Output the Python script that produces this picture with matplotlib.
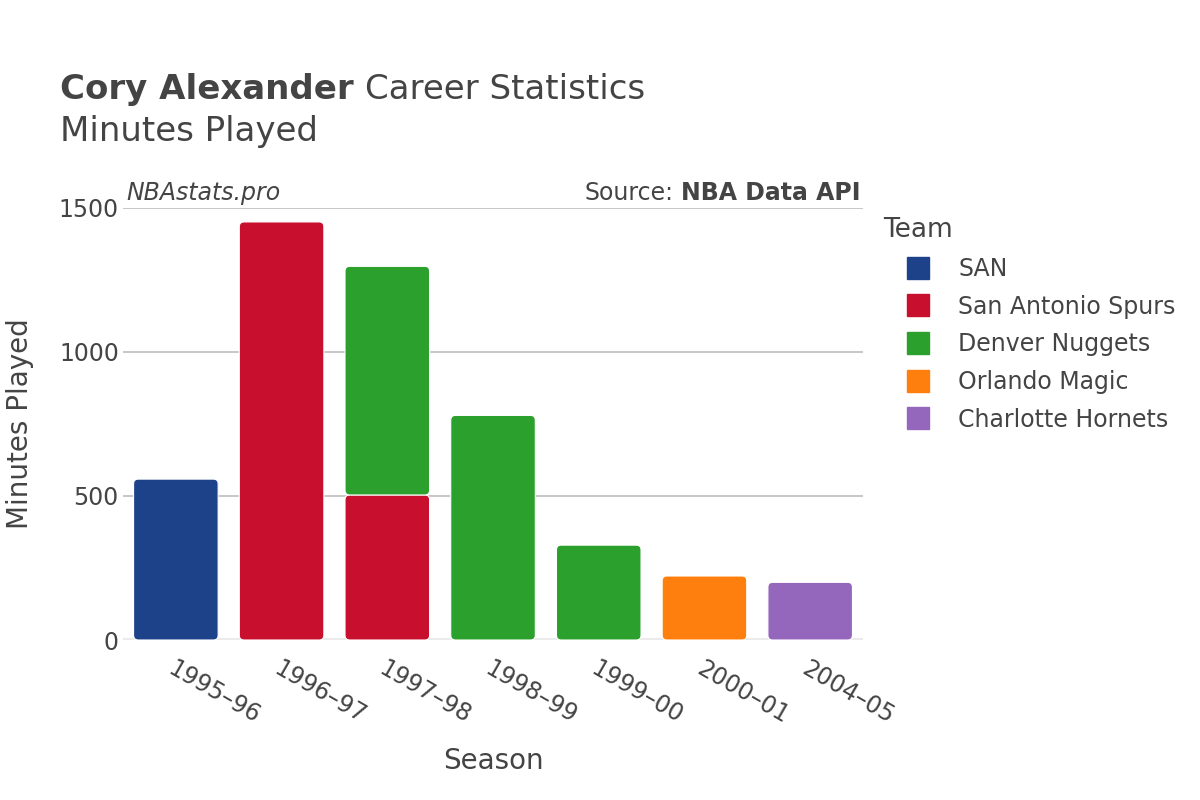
import matplotlib.pyplot as plt
import numpy as np
from matplotlib.lines import Line2D
from matplotlib.patches import FancyBboxPatch

plt.rcParams['font.family'] = ['DejaVu Sans']

seasons = ['1995–96', '1996–97', '1997–98', '1998–99', '1999–00', '2000–01', '2004–05']
teams = ['SAN', 'San Antonio Spurs', 'Denver Nuggets', 'Orlando Magic', 'Charlotte Hornets']
colors = ['#1d428a', '#c8102e', '#2ca02c', '#ff7f0e', '#9467bd']

san = [558, 0, 0, 0, 0, 0, 0]
spurs = [0, 1450, 503, 0, 0, 0, 0]
nuggets = [0, 0, 793, 779, 329, 0, 0]
magic = [0, 0, 0, 0, 0, 222, 0]
hornets = [0, 0, 0, 0, 0, 0, 200]
values = [san, spurs, nuggets, magic, hornets]

txt = '#444444'

fig = plt.figure(figsize=(12, 8), dpi=100)
ax = fig.add_axes([0.1025, 0.2, 0.6167, 0.5406])

x = np.arange(len(seasons))
bottom = np.zeros(len(seasons))
bars = []
for vals, col in zip(values, colors):
    v = np.array(vals, dtype=float)
    b = ax.bar(x, v, width=0.8, bottom=bottom, color=col, zorder=3)
    bars.append(b)
    bottom += v

ax.set_xlim(-0.5, len(seasons) - 0.5)
ax.set_ylim(0, 1500)

# swap the plain bars for rounded ones
px_x = 0.6167 * 1200 / 7
px_y = 0.5406 * 800 / 1500
aspect = px_x / px_y
for b in bars:
    for p in b.patches:
        if p.get_height() <= 0:
            continue
        x0, y0 = p.get_xy()
        r = FancyBboxPatch((x0, y0), p.get_width(), p.get_height(),
                           boxstyle='round,pad=0,rounding_size=0.045',
                           mutation_aspect=aspect,
                           facecolor=p.get_facecolor(), edgecolor='white',
                           linewidth=0.8, zorder=3)
        p.remove()
        ax.add_patch(r)

ax.set_yticks([0, 500, 1000, 1500])
ax.yaxis.grid(True, color='#bdbdbd', linewidth=1.2, zorder=0)
ax.axhline(0, color='#ebebeb', linewidth=3, zorder=2)
for s in ax.spines.values():
    s.set_visible(False)
ax.tick_params(axis='both', length=0, labelsize=17, colors=txt)
ax.tick_params(axis='y', pad=3)
ax.set_xticks(x)
ax.set_xticklabels(seasons, rotation=-30, ha='left', va='top', rotation_mode='anchor')
ax.tick_params(axis='x', pad=12)

ax.set_xlabel('Season', fontsize=20, color=txt, labelpad=13)
ax.set_ylabel('Minutes Played', fontsize=20, color=txt, labelpad=18)

# title line with bold name followed by regular text
fig.canvas.draw()
rend = fig.canvas.get_renderer()
t1 = fig.text(0.05, 0.888, 'Cory Alexander', fontsize=24.5, fontweight='bold', color=txt, va='center')
bb = t1.get_window_extent(rend)
fig.text((bb.x1 + 11) / 1200, 0.888, 'Career Statistics', fontsize=24.5, color=txt, va='center')
fig.text(0.05, 0.835, 'Minutes Played', fontsize=24.5, color=txt, va='center')

ax.text(0.005, 1.006, 'NBAstats.pro', transform=ax.transAxes, fontsize=17,
        style='italic', color=txt, va='bottom', ha='left')
s2 = ax.text(0.997, 1.006, 'NBA Data API', transform=ax.transAxes, fontsize=17,
             fontweight='bold', color=txt, va='bottom', ha='right')
bb2 = s2.get_window_extent(rend)
fig.text((bb2.x0 - 8) / 1200, bb2.y0 / 800, 'Source:', fontsize=17,
         color=txt, va='bottom', ha='right')

handles = [Line2D([0], [0], marker='s', linestyle='none', markersize=16,
                  markerfacecolor=c, markeredgecolor=c) for c in colors]
leg = fig.legend(handles, teams, loc='upper left', bbox_to_anchor=(0.718, 0.755),
                 frameon=False, fontsize=17, title='Team', title_fontsize=19,
                 labelspacing=0.58, handlelength=3.0, handletextpad=0.2,
                 alignment='left')
for t in leg.get_texts():
    t.set_color(txt)
leg.get_title().set_color(txt)

fig.savefig('out.png', dpi=100)
